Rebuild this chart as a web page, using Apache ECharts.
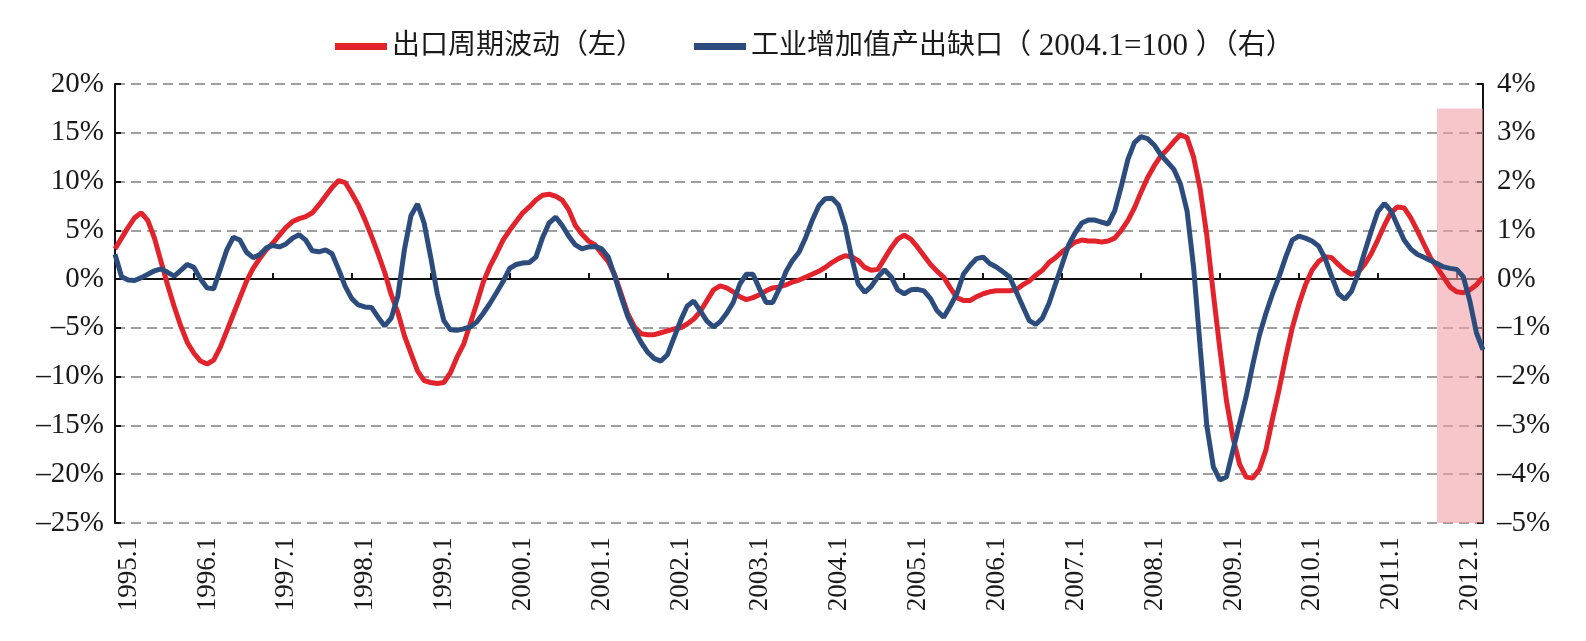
<!DOCTYPE html>
<html>
<head>
<meta charset="utf-8">
<script src="https://cdn.jsdelivr.net/npm/echarts@6/dist/echarts.min.js"></script>
<style>
  html, body { margin: 0; padding: 0; background: #fff; }
  #chart { width: 1586px; height: 641px; }
</style>
</head>
<body>
<div id="chart"></div>
<script>
// monthly, 1995.1 - 2012.5
var startYear = 1995
var months = []
for (var i = 0; i < 209; i++) {
  months.push((startYear + Math.floor(i / 12)) + '.' + (i % 12 + 1))
}

// 出口周期波动 (left axis, %)
var exportCycle = [
  3.1, 4.2, 5.3, 6.3, 6.8, 6.0, 4.2, 1.8, -0.6, -2.8, -4.8, -6.5,
  -7.6, -8.4, -8.7, -8.3, -7.0, -5.3, -3.6, -1.9, -0.2, 1.1, 2.1, 3.0,
  3.7, 4.5, 5.3, 5.9, 6.2, 6.4, 6.8, 7.6, 8.5, 9.4, 10.1, 9.9,
  8.8, 7.6, 6.1, 4.4, 2.6, 0.7, -1.6, -3.4, -5.8, -7.6, -9.4, -10.4,
  -10.6, -10.7, -10.6, -9.6, -8.0, -6.7, -4.6, -2.5, -0.3, 1.3, 2.6, 4.0,
  5.0, 5.9, 6.8, 7.4, 8.1, 8.6, 8.7, 8.5, 8.1, 7.1, 5.5, 4.6,
  3.9, 3.5, 2.6, 1.8, 0.4, -1.6, -3.6, -4.9, -5.6, -5.7, -5.7, -5.5,
  -5.3, -5.1, -5.0, -4.6, -4.1, -3.3, -2.2, -1.1, -0.7, -0.9, -1.3, -1.8,
  -2.1, -1.9, -1.6, -1.2, -0.9, -0.8, -0.6, -0.3, -0.1, 0.2, 0.5, 0.8,
  1.2, 1.7, 2.1, 2.4, 2.3, 1.9, 1.2, 0.9, 1.0, 2.1, 3.2, 4.1,
  4.5, 4.1, 3.3, 2.4, 1.5, 0.8, 0.2, -0.9, -1.9, -2.2, -2.2, -1.8,
  -1.5, -1.3, -1.2, -1.2, -1.2, -1.1, -0.6, -0.2, 0.4, 0.9, 1.7, 2.2,
  2.8, 3.3, 3.8, 4.0, 3.9, 3.9, 3.8, 3.9, 4.2, 5.0, 6.0, 7.3,
  8.9, 10.4, 11.6, 12.6, 13.3, 14.1, 14.8, 14.5, 12.5, 9.2, 4.5, -1.5,
  -7.2, -12.5, -16.3, -19.0, -20.3, -20.4, -19.5, -17.5, -14.3, -11.3, -8.0, -5.0,
  -2.6, -0.6, 0.9, 1.8, 2.3, 2.2, 1.5, 0.9, 0.5, 0.7, 1.5, 2.6,
  4.0, 5.5, 6.8, 7.4, 7.3, 6.3, 5.0, 3.6, 2.2, 1.2, 0.2, -0.8,
  -1.3, -1.4, -1.1, -0.6, 0.2
]

// 工业增加值产出缺口 (right axis, %)
var outputGap = [
  0.51, 0.05, -0.02, -0.03, 0.03, 0.10, 0.17, 0.21, 0.14, 0.06, 0.18, 0.30,
  0.24, 0.00, -0.18, -0.20, 0.20, 0.60, 0.86, 0.80, 0.55, 0.44, 0.50, 0.64,
  0.69, 0.66, 0.72, 0.84, 0.91, 0.80, 0.58, 0.56, 0.60, 0.52, 0.20, -0.15,
  -0.40, -0.53, -0.57, -0.58, -0.78, -0.96, -0.80, -0.35, 0.60, 1.30, 1.54, 1.15,
  0.45, -0.30, -0.85, -1.04, -1.05, -1.02, -0.98, -0.88, -0.70, -0.50, -0.28, -0.05,
  0.22, 0.30, 0.33, 0.34, 0.45, 0.85, 1.15, 1.27, 1.10, 0.88, 0.70, 0.62,
  0.66, 0.67, 0.62, 0.45, 0.05, -0.38, -0.78, -1.05, -1.30, -1.50, -1.63, -1.68,
  -1.55, -1.20, -0.85, -0.55, -0.45, -0.65, -0.86, -0.98, -0.88, -0.70, -0.48, -0.10,
  0.10, 0.10, -0.20, -0.48, -0.48, -0.20, 0.15, 0.38, 0.55, 0.85, 1.20, 1.50,
  1.65, 1.66, 1.52, 1.10, 0.45, -0.10, -0.27, -0.15, 0.05, 0.19, 0.05, -0.22,
  -0.30, -0.22, -0.21, -0.24, -0.40, -0.65, -0.78, -0.55, -0.30, 0.10, 0.28, 0.42,
  0.45, 0.32, 0.25, 0.15, 0.05, -0.25, -0.55, -0.85, -0.93, -0.80, -0.50, -0.10,
  0.30, 0.70, 0.95, 1.15, 1.21, 1.21, 1.17, 1.13, 1.40, 1.90, 2.45, 2.80,
  2.92, 2.88, 2.75, 2.55, 2.40, 2.25, 1.95, 1.40, 0.24, -1.40, -3.00, -3.85,
  -4.12, -4.05, -3.50, -2.95, -2.40, -1.75, -1.15, -0.70, -0.30, 0.05, 0.45, 0.80,
  0.88, 0.84, 0.78, 0.68, 0.42, 0.05, -0.30, -0.41, -0.25, 0.10, 0.55, 0.98,
  1.38, 1.55, 1.40, 1.10, 0.80, 0.62, 0.51, 0.45, 0.38, 0.32, 0.25, 0.22,
  0.20, 0.05, -0.45, -1.10, -1.45
]

var seriesNames = ['出口周期波动（左）', '工业增加值产出缺口（2004.1=100）（右）']
var shadeRange = ['2011.10', '2012.5']

var serif = '"Liberation Serif", "Times New Roman", "Noto Sans CJK SC", serif'
var pct = function (v) { return String(v).replace('-', '–') + '%' }

var chart = echarts.init(document.getElementById('chart'))
chart.setOption({
  animation: false,
  backgroundColor: '#fff',
  legend: {
    left: 330,
    top: 26,
    itemWidth: 52,
    itemHeight: 7,
    itemGap: 50,
    icon: 'rect',
    formatter: function (name) {
      return name.replace(/([0-9.=]+)/, '{n| $1 }')
    },
    textStyle: {
      fontFamily: serif,
      fontSize: 28,
      color: '#1a1a1a',
      rich: {
        n: { fontFamily: serif, fontSize: 31, color: '#1a1a1a' }
      }
    },
    data: seriesNames
  },
  grid: { left: 115, right: 103, top: 84, bottom: 118 },
  xAxis: [{
    type: 'category',
    data: months,
    boundaryGap: false,
    axisLine: { show: false, onZero: false },
    axisTick: { show: false },
    axisLabel: {
      interval: 11,
      rotate: 90,
      margin: 14,
      verticalAlign: 'top',
      fontFamily: serif,
      fontSize: 27,
      color: '#1a1a1a'
    }
  }, {
    type: 'category',
    data: months,
    boundaryGap: false,
    position: 'top',
    axisLine: { onZero: true, lineStyle: { color: '#111', width: 2 } },
    axisTick: { interval: 11, length: 6, inside: false, lineStyle: { color: '#111', width: 2 } },
    axisLabel: { show: false }
  }],
  yAxis: [{
    type: 'value',
    min: -25,
    max: 20,
    interval: 5,
    axisLine: { show: true, lineStyle: { color: '#111', width: 2 } },
    axisTick: { show: true, inside: true, length: 6, lineStyle: { color: '#111', width: 2 } },
    axisLabel: { formatter: pct, fontFamily: serif, fontSize: 29, color: '#1a1a1a', margin: 11 },
    splitLine: { lineStyle: { color: '#808080', width: 1.5, type: [10, 6] } }
  }, {
    type: 'value',
    min: -5,
    max: 4,
    interval: 1,
    axisLine: { show: true, lineStyle: { color: '#111', width: 2 } },
    axisTick: { show: true, inside: true, length: 6, lineStyle: { color: '#111', width: 2 } },
    axisLabel: { formatter: pct, fontFamily: serif, fontSize: 29, color: '#1a1a1a', margin: 14 },
    splitLine: { show: false }
  }],
  series: [{
    name: seriesNames[0],
    type: 'line',
    xAxisIndex: 0,
    yAxisIndex: 0,
    data: exportCycle,
    showSymbol: false,
    z: 3,
    itemStyle: { color: '#E3232C' },
    lineStyle: { color: '#E3232C', width: 5 },
    markArea: {
      silent: true,
      itemStyle: { color: 'rgba(240,160,168,0.6)' },
      data: [[{ xAxis: shadeRange[0], yAxis: 17.5 }, { xAxis: shadeRange[1], yAxis: -25 }]]
    }
  }, {
    name: seriesNames[1],
    type: 'line',
    xAxisIndex: 0,
    yAxisIndex: 1,
    data: outputGap,
    showSymbol: false,
    z: 4,
    itemStyle: { color: '#2D4C7E' },
    lineStyle: { color: '#2D4C7E', width: 5 }
  }]
})
</script>
</body>
</html>
